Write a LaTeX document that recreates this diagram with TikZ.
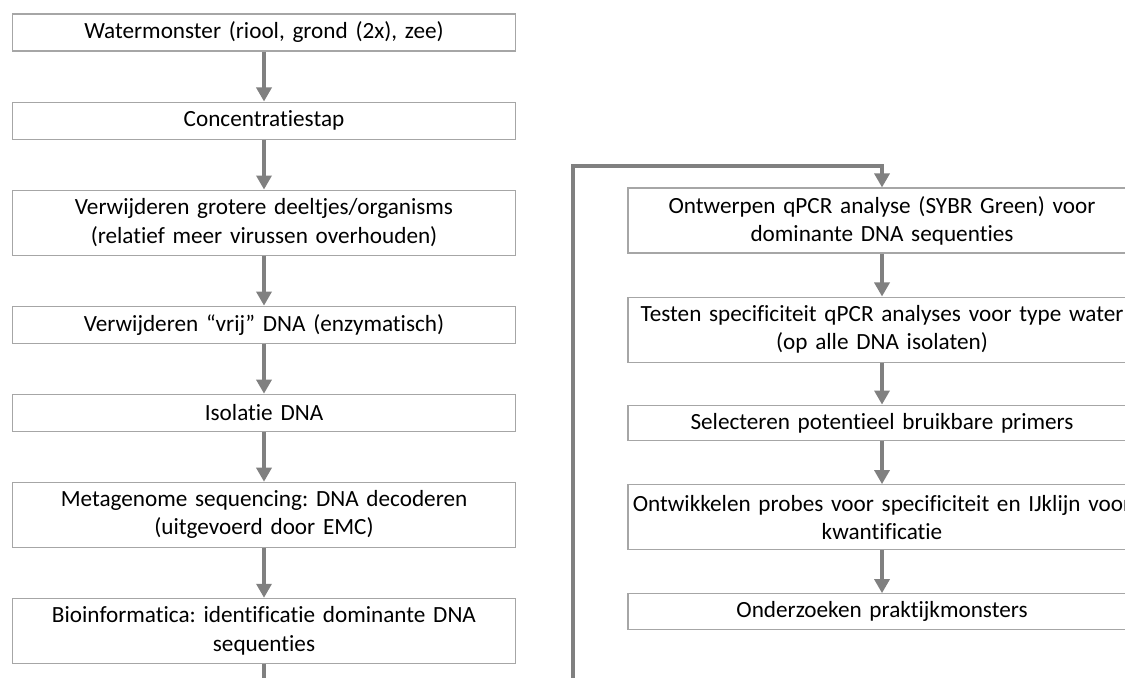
\documentclass[tikz,border=0pt]{standalone}
\usepackage{fontspec}
\setmainfont[Ligatures={NoCommon}]{Carlito}
\usepackage[HTML]{xcolor}
\usepackage{tikz}
\usetikzlibrary{positioning, arrows.meta}
\definecolor{linegray}{HTML}{808080}
\definecolor{boxgray}{HTML}{A6A6A6}
\frenchspacing

\begin{document}
\begin{tikzpicture}[
  stepbox/.style={draw=boxgray, line width=0.6pt, fill=white, text width=10.0cm, inner sep=0.03cm,
    align=center, minimum height=0.74cm, font=\fontsize{13.2}{16}\selectfont},
  twoline/.style={minimum height=1.3cm},
  flow/.style={draw=linegray, line width=2.4pt, -{Triangle[length=8pt,width=8.5pt]}},
  node distance=1.0cm
]
\useasboundingbox (0,0) rectangle (22.5,-13.54);
\clip (0,0) rectangle (22.5,-13.54);
% left column
\node[stepbox] (water) at (5.28,-0.65) {Watermonster (riool, grond (2x), zee)};
\node[stepbox, below=of water] (conc) {Concentratiestap};
\node[stepbox, twoline, below=of conc] (groot) {Verwijderen grotere deeltjes/organisms\\(relatief meer virussen overhouden)};
\node[stepbox, below=of groot] (vrij) {Verwijderen “vrij” DNA (enzymatisch)};
\node[stepbox, below=of vrij] (iso) {Isolatie DNA};
\node[stepbox, twoline, below=of iso] (meta) {Metagenome sequencing: DNA decoderen\\(uitgevoerd door EMC)};
\node[stepbox, twoline, below=of meta] (bio) {Bioinformatica: identificatie dominante DNA\\sequenties};
% right column
\node[stepbox, twoline, text width=10.1cm] (ontw) at (17.64,-4.41) {Ontwerpen qPCR analyse (SYBR Green) voor\\dominante DNA sequenties};
\node[stepbox, twoline, text width=10.1cm, below=0.86cm of ontw] (test) {Testen specificiteit qPCR analyses voor type water\\(op alle DNA isolaten)};
\node[stepbox, text width=10.1cm, minimum height=0.71cm, below=0.84cm of test] (sel) {Selecteren potentieel bruikbare primers};
\node[stepbox, twoline, text width=10.1cm, below=0.86cm of sel] (probe) {Ontwikkelen probes voor specificiteit en IJklijn voor\\kwantificatie};
\node[stepbox, text width=10.1cm, minimum height=0.71cm, below=0.86cm of probe] (prak) {Onderzoeken praktijkmonsters};
% arrows
\foreach \a/\b in {water/conc, conc/groot, groot/vrij, vrij/iso, iso/meta, meta/bio,
  ontw/test, test/sel, sel/probe, probe/prak}
  \draw[flow] (\a) -- (\b);
% loop from bioinformatica to ontwerpen
\coordinate (lowturn) at (11.46,-13.9);
\coordinate (highturn) at (11.46,-3.32);
\draw[flow, line width=2.2pt] (bio.south) |- (lowturn) -- (highturn) -| (ontw.north);
\end{tikzpicture}
\end{document}
